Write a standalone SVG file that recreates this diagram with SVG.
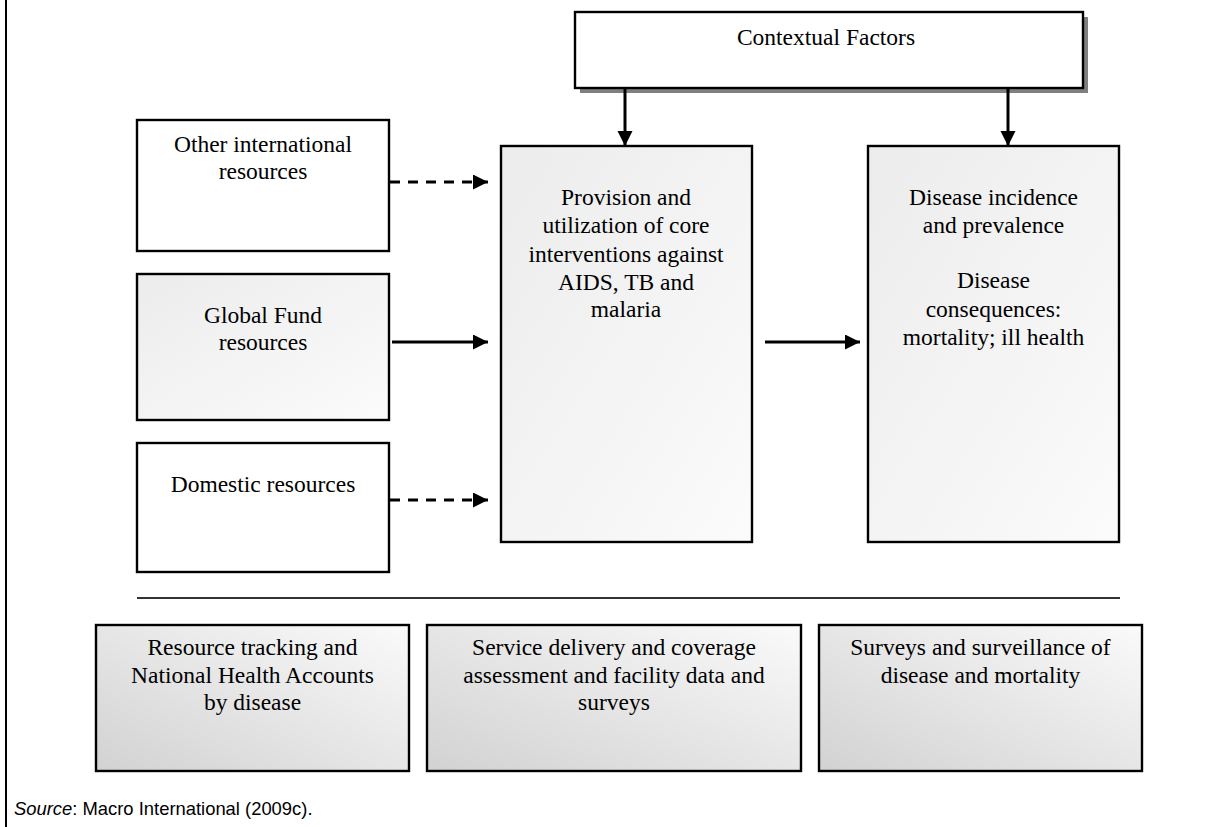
<svg xmlns="http://www.w3.org/2000/svg" width="1231" height="827" viewBox="0 0 1231 827">
<style>
.t{font-family:"Liberation Serif","Times New Roman",serif;font-size:23.5px;fill:#000;text-anchor:middle}
.box{stroke:#000;stroke-width:2.4}
.ln{stroke:#000;stroke-width:3;fill:none}
.dash{stroke-dasharray:10 8}
</style>
<defs>
<marker id="ah" markerUnits="userSpaceOnUse" markerWidth="18" markerHeight="16" refX="15" refY="7.5" orient="auto">
<path d="M0,0 L15,7.5 L0,15 z" fill="#000"/>
</marker>
<linearGradient id="gLight" x1="0" y1="0" x2="1" y2="1">
<stop offset="0" stop-color="#ececec"/>
<stop offset="1" stop-color="#fbfbfb"/>
</linearGradient>
<linearGradient id="gBottom" x1="1" y1="0" x2="0" y2="1">
<stop offset="0" stop-color="#fafafa"/>
<stop offset="1" stop-color="#d2d2d2"/>
</linearGradient>
</defs>
<rect width="1231" height="827" fill="#fff"/>
<line x1="6" y1="0" x2="6" y2="827" stroke="#000" stroke-width="2"/>

<g id="contextual">
<rect x="580" y="17" width="508" height="76" fill="#808080"/>
<rect x="575" y="12" width="508" height="76" class="box" fill="#fff"/>
<text class="t" x="826" y="45">Contextual Factors</text>
</g>

<g id="other-intl">
<rect x="137" y="120" width="252" height="131" class="box" fill="#fff"/>
<text class="t" x="263" y="152">Other international</text>
<text class="t" x="263" y="179">resources</text>
</g>

<g id="global-fund">
<rect x="137" y="274" width="252" height="146" class="box" fill="url(#gLight)"/>
<text class="t" x="263" y="323">Global Fund</text>
<text class="t" x="263" y="350">resources</text>
</g>

<g id="domestic">
<rect x="137" y="443" width="252" height="129" class="box" fill="#fff"/>
<text class="t" x="263" y="492">Domestic resources</text>
</g>

<g id="provision">
<rect x="501" y="146" width="251" height="396" class="box" fill="url(#gLight)"/>
<text class="t" x="626" y="205">Provision and</text>
<text class="t" x="626" y="233">utilization of core</text>
<text class="t" x="626" y="262">interventions against</text>
<text class="t" x="626" y="290">AIDS, TB and</text>
<text class="t" x="626" y="317">malaria</text>
</g>

<g id="disease">
<rect x="868" y="146" width="251" height="396" class="box" fill="url(#gLight)"/>
<text class="t" x="993.5" y="205">Disease incidence</text>
<text class="t" x="993.5" y="233">and prevalence</text>
<text class="t" x="993.5" y="288">Disease</text>
<text class="t" x="993.5" y="317">consequences:</text>
<text class="t" x="993.5" y="345">mortality; ill health</text>
</g>

<g id="connectors">
<line x1="625" y1="88" x2="625" y2="146" class="ln" marker-end="url(#ah)"/>
<line x1="1008" y1="88" x2="1008" y2="146" class="ln" marker-end="url(#ah)"/>
<line x1="390" y1="182" x2="488" y2="182" class="ln dash" marker-end="url(#ah)"/>
<line x1="392" y1="342" x2="488" y2="342" class="ln" marker-end="url(#ah)"/>
<line x1="390" y1="500" x2="488" y2="500" class="ln dash" marker-end="url(#ah)"/>
<line x1="765" y1="342" x2="860" y2="342" class="ln" marker-end="url(#ah)"/>
</g>

<line x1="137" y1="598" x2="1120" y2="598" stroke="#333" stroke-width="2"/>

<g id="resource-tracking">
<rect x="96" y="625" width="313" height="146" class="box" fill="url(#gBottom)"/>
<text class="t" x="252.5" y="655">Resource tracking and</text>
<text class="t" x="252.5" y="683">National Health Accounts</text>
<text class="t" x="252.5" y="710">by disease</text>
</g>

<g id="service-delivery">
<rect x="427" y="625" width="374" height="146" class="box" fill="url(#gBottom)"/>
<text class="t" x="614" y="655">Service delivery and coverage</text>
<text class="t" x="614" y="683">assessment and facility data and</text>
<text class="t" x="614" y="710">surveys</text>
</g>

<g id="surveys">
<rect x="819" y="625" width="323" height="146" class="box" fill="url(#gBottom)"/>
<text class="t" x="980.5" y="655">Surveys and surveillance of</text>
<text class="t" x="980.5" y="683">disease and mortality</text>
</g>

<text x="14" y="815" font-family="'Liberation Sans',Arial,sans-serif" font-size="18.4"><tspan font-style="italic">Source</tspan>: Macro International (2009c).</text>
</svg>
